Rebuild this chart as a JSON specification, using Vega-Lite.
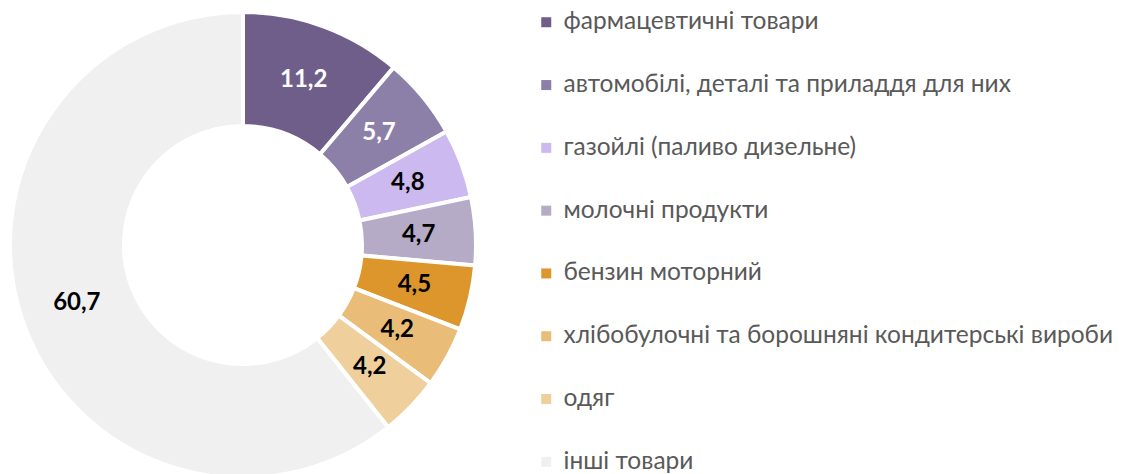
{
  "$schema": "https://vega.github.io/schema/vega-lite/v6.json",
  "width": 486,
  "height": 490,
  "padding": 0,
  "background": "white",
  "config": {
    "view": {"stroke": null},
    "locale": {"number": {"decimal": ",", "thousands": " ", "grouping": [3], "currency": ["", ""]}}
  },
  "data": {
    "values": [
      {"n": 1, "category": "фармацевтичні товари", "value": 11.2},
      {"n": 2, "category": "автомобілі, деталі та приладдя для них", "value": 5.7},
      {"n": 3, "category": "газойлі (паливо дизельне)", "value": 4.8},
      {"n": 4, "category": "молочні продукти", "value": 4.7},
      {"n": 5, "category": "бензин моторний", "value": 4.5},
      {"n": 6, "category": "хлібобулочні та борошняні кондитерські вироби", "value": 4.2},
      {"n": 7, "category": "одяг", "value": 4.2},
      {"n": 8, "category": "інші товари", "value": 60.7}
    ]
  },
  "encoding": {
    "theta": {"field": "value", "type": "quantitative", "stack": true},
    "order": {"field": "n", "type": "quantitative"}
  },
  "layer": [
    {
      "mark": {"type": "arc", "outerRadius": 233, "innerRadius": 119, "stroke": "white", "strokeWidth": 4},
      "encoding": {
        "color": {
          "field": "category",
          "type": "nominal",
          "scale": {
            "domain": ["фармацевтичні товари", "автомобілі, деталі та приладдя для них", "газойлі (паливо дизельне)", "молочні продукти", "бензин моторний", "хлібобулочні та борошняні кондитерські вироби", "одяг", "інші товари"],
            "range": ["#705E8A", "#8C7FA8", "#CCB9F0", "#B5ABC6", "#DC962B", "#E9BD77", "#EFCF9C", "#F0F0F0"]
          },
          "legend": {
            "title": null,
            "orient": "none",
            "legendX": 534,
            "legendY": 10,
            "symbolType": "square",
            "symbolSize": 100,
            "symbolStrokeWidth": 0,
            "labelFont": "Lato",
            "labelFontSize": 24.5,
            "labelColor": "#595959",
            "labelLimit": 700,
            "labelOffset": 5,
            "rowPadding": 37.8
          }
        }
      }
    },
    {
      "mark": {"type": "text", "radius": 176, "font": "Lato", "fontSize": 24, "fontWeight": "bold"},
      "encoding": {
        "text": {"field": "value", "type": "quantitative", "format": ".1f"},
        "color": {"condition": {"test": "datum.n <= 2", "value": "white"}, "value": "black"}
      }
    }
  ]
}
